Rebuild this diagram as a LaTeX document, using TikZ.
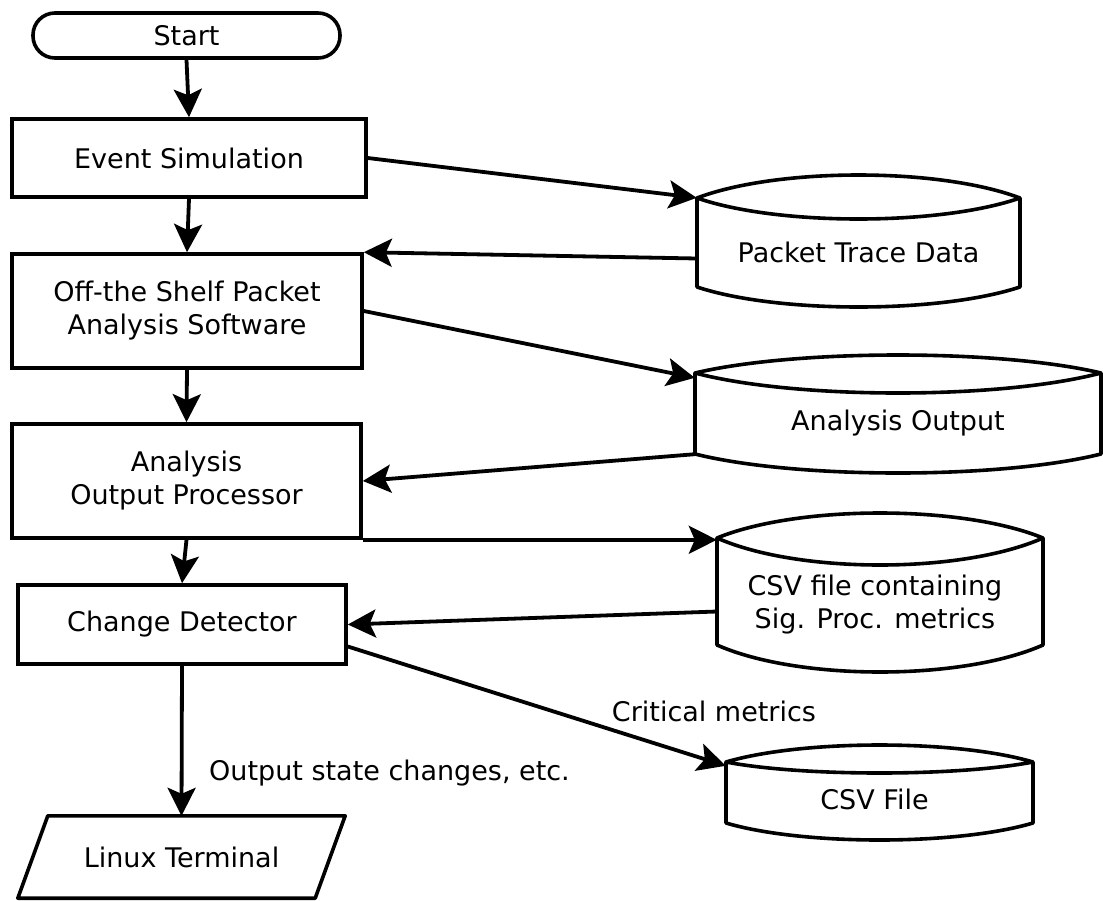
\documentclass[tikz,border=0pt]{standalone}
\usepackage{fontspec}
\setmainfont{DejaVu Sans}
\usetikzlibrary{arrows.meta,calc}

% Storage symbol: lens-shaped top, straight sides, curved bottom
\newcommand\storepath[7]{% x1, y1, x2, y2, top bulge, inner bulge, bottom bulge
  \pgfmathsetmacro\sa{#1+(#3-#1)*0.25}%
  \pgfmathsetmacro\sb{#1+(#3-#1)*0.75}%
  \pgfmathsetmacro\ct{#2-4/3*#5}%
  \pgfmathsetmacro\ci{#2+4/3*#6}%
  \pgfmathsetmacro\cb{#4+4/3*#7}%
  \draw[outline] (#1,#2) .. controls (\sa,\ct) and (\sb,\ct) .. (#3,#2)
    .. controls (\sb,\ci) and (\sa,\ci) .. (#1,#2) -- (#1,#4)
    .. controls (\sa,\cb) and (\sb,\cb) .. (#3,#4) -- (#3,#2);}

\tikzset{
  x=1pt, y=-1pt,
  every node/.style={font=\fontsize{27}{33}\selectfont},
  outline/.style={line width=3.6pt, line join=round},
  procbox/.style={draw, rectangle, line width=3.6pt, align=center, inner sep=0pt},
  terminator/.style={procbox, rounded corners=22pt},
  body/.style={rectangle, inner sep=0pt, align=center},
  flow/.style={line width=3.8pt, -{Stealth[length=28pt, width=28pt, inset=6pt]}},
  note/.style={inner sep=0pt}
}

\begin{document}
\begin{tikzpicture}
\useasboundingbox (0,0) rectangle (1103,900);

% Main process column
\node[terminator, minimum width=307pt, minimum height=45pt] (start) at (186.5,35.5) {Start};
\node[procbox, minimum width=354pt, minimum height=78pt] (event) at (189,158) {Event Simulation};
\node[procbox, minimum width=350pt, minimum height=114pt] (off) at (187,311) {Off-the Shelf Packet\\Analysis Software};
\node[procbox, minimum width=349pt, minimum height=114pt] (aop) at (186.5,481) {Analysis\\Output Processor};
\node[procbox, minimum width=328pt, minimum height=79pt] (cd) at (182,624.5) {Change Detector};

% Output device (parallelogram)
\node[body, minimum width=297pt, minimum height=82pt] (term) at (181.5,857) {Linux Terminal};
\draw[outline] ([xshift=15pt]term.north west) -- ([xshift=15pt]term.north east)
  -- ([xshift=-15pt]term.south east) -- ([xshift=-15pt]term.south west) -- cycle;

% Data stores
\storepath{697}{198}{1020}{287}{23}{21}{20}
\node[body, minimum width=323pt, minimum height=89pt,
  label={[yshift=-10pt]center:Packet Trace Data}] (ptd) at (858.5,242.5) {};

\storepath{695}{373}{1101}{454}{18}{20}{19}
\node[body, minimum width=406pt, minimum height=81pt,
  label={[yshift=-10pt]center:Analysis Output}] (ao) at (898,413.5) {};

\storepath{717}{538}{1043}{645}{25}{27}{27}
\node[body, minimum width=326pt, minimum height=107pt,
  label={[yshift=-13pt, xshift=-5pt, align=center]center:CSV file containing\\Sig. Proc. metrics}] (csvm) at (880,591.5) {};

\storepath{726}{762}{1033}{823}{17}{11}{17}
\node[body, minimum width=307pt, minimum height=61pt,
  label={[yshift=-7pt, xshift=-5pt]center:CSV File}] (csvf) at (879.5,792.5) {};

% Main flow
\draw[flow] (start.south) -- (event.north);
\draw[flow] (event.south) -- (off.north);
\draw[flow] (off.south) -- (aop.north);
\draw[flow] (aop.south) -- (cd.north);
\draw[flow] (cd.south) -- (term.north);

% Data exchange
\draw[flow] (event.east) -- (ptd.north west);
\draw[flow] ([yshift=-16pt]ptd.west) -- (off.north east);
\draw[flow] (off.east) -- ([yshift=-5pt]ao.north west);
\draw[flow] (ao.south west) -- (aop.east);
\draw[flow] (aop.south east) -- ([yshift=-2pt]csvm.north west);
\draw[flow] ([yshift=-20pt]csvm.west) -- (cd.east);
\draw[flow] ([yshift=-22pt]cd.east) -- ([yshift=-4pt]csvf.north west);

% Connector notes
\node[note] (crit) at (714,711) {Critical metrics};
\node[note] (osc) at (389.5,773) {Output state changes, etc.};
\end{tikzpicture}
\end{document}
